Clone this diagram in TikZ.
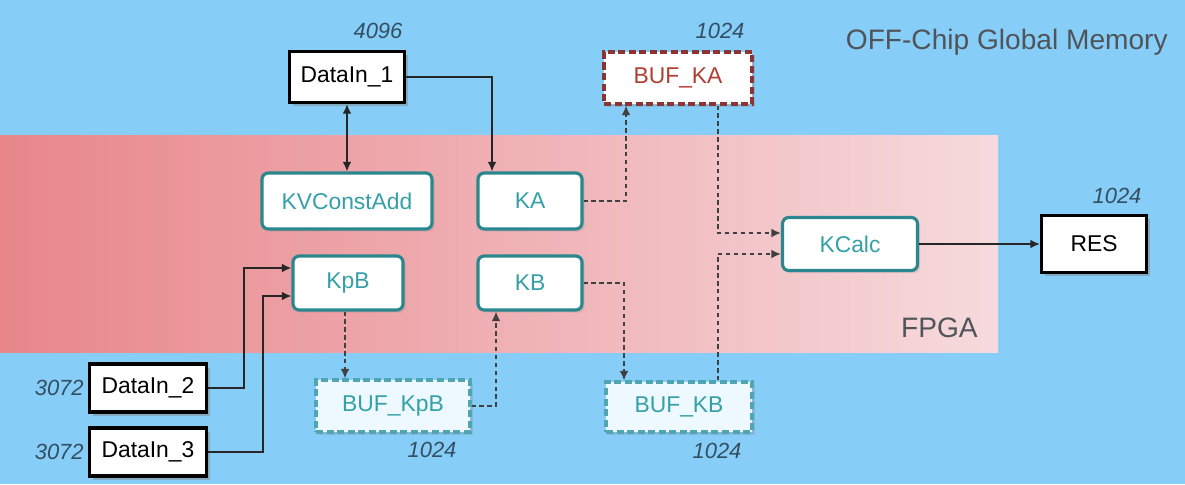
\documentclass[tikz,border=0pt]{standalone}
\usepackage{fontspec}
\setmainfont{Liberation Sans}
\usetikzlibrary{shadows,arrows.meta,positioning,calc}
\definecolor{memblue}{RGB}{134,206,248}
\definecolor{fpgadark}{RGB}{232,134,138}
\definecolor{fpgalight}{RGB}{246,218,221}
\definecolor{kteal}{RGB}{42,135,142}
\definecolor{ktext}{RGB}{52,160,168}
\definecolor{bufteal}{RGB}{80,165,178}
\definecolor{bufred}{RGB}{140,52,52}
\definecolor{bufredtext}{RGB}{178,62,50}
\definecolor{sizetext}{RGB}{52,78,98}
\definecolor{captext}{RGB}{80,84,90}

\begin{document}
\begin{tikzpicture}[
    x=0.02cm, y=-0.02cm,
    >={Latex[length=5.5pt,width=5pt]},
    every node/.style={
        font=\fontsize{13}{15}\selectfont,
        inner sep=0pt,
        align=center
    },
    memblock/.style={
        draw=black, line width=1.8pt, fill=white,
        drop shadow={shadow xshift=2pt, shadow yshift=-2pt, opacity=0.45}
    },
    kernel/.style={
        draw=kteal, line width=1.8pt, rounded corners=3.5pt,
        fill=white, text=ktext,
        drop shadow={shadow xshift=1.5pt, shadow yshift=-1.5pt, opacity=0.2}
    },
    buffer/.style={
        draw=bufteal, line width=1.8pt, dash pattern=on 4pt off 2pt,
        fill=white!93!cyan, text=ktext,
        drop shadow={shadow xshift=1.5pt, shadow yshift=-1.5pt, opacity=0.25}
    },
    bufhot/.style={buffer, draw=bufred, fill=white, text=bufredtext},
    sizelabel/.style={font=\fontsize{12.5}{15}\selectfont\itshape, text=sizetext},
    wire/.style={->, line width=0.9pt, draw=black!85},
    dwire/.style={->, line width=0.9pt, draw=black!75, dash pattern=on 2.5pt off 2pt}
]
\useasboundingbox (0,0) rectangle (1185,484);
\fill[memblue] (0,0) rectangle (1185,484);
\shade[left color=fpgadark, right color=fpgalight] (0,135) rectangle (998,352);

\node[font=\fontsize{16}{18}\selectfont, text=captext, anchor=east] (offchip) at (1168,42) {OFF-Chip Global Memory};
\node[font=\fontsize{16}{18}\selectfont, text=captext, anchor=east] (fpga) at (978,328) {FPGA};

\node[memblock, minimum width=2.3cm, minimum height=1.02cm] (DataIn_1) at (347,77) {DataIn\_1};
\node[memblock, minimum width=2.34cm, minimum height=0.96cm] (DataIn_2) at (148,388) {DataIn\_2};
\node[memblock, minimum width=2.34cm, minimum height=0.96cm] (DataIn_3) at (148,452) {DataIn\_3};
\node[memblock, minimum width=2.1cm, minimum height=1.14cm] (RES) at (1094,244) {RES};

\node[kernel, minimum width=3.4cm, minimum height=1.12cm] (KVConstAdd) at (347,201) {KVConstAdd};
\node[kernel, minimum width=2.08cm, minimum height=1.12cm] (KA) at (530,201) {KA};
\node[kernel, minimum width=2.2cm, minimum height=1.08cm] (KpB) at (348,283) {KpB};
\node[kernel, minimum width=2.08cm, minimum height=1.08cm] (KB) at (530,283) {KB};
\node[kernel, minimum width=2.7cm, minimum height=1.06cm] (KCalc) at (850,244) {KCalc};

\node[bufhot, minimum width=2.96cm, minimum height=1.04cm] (BUF_KA) at (678,78) {BUF\_KA};
\node[buffer, minimum width=3.08cm, minimum height=1.04cm] (BUF_KpB) at (393,406) {BUF\_KpB};
\node[buffer, minimum width=2.92cm, minimum height=1.0cm] (BUF_KB) at (679,407) {BUF\_KB};

\node[sizelabel] (sz_in1) at (378,31) {4096};
\node[sizelabel] (sz_bufka) at (720,31) {1024};
\node[sizelabel] (sz_res) at (1117,196) {1024};
\node[sizelabel] (sz_bufkpb) at (432,450) {1024};
\node[sizelabel] (sz_bufkb) at (717,451) {1024};
\node[sizelabel, anchor=east] (sz_in2) at (84,388) {3072};
\node[sizelabel, anchor=east] (sz_in3) at (84,452) {3072};

\draw[wire, <->] (DataIn_1.south) -- (KVConstAdd.north);
\draw[wire] (DataIn_1.east) -| ([xshift=-0.76cm]KA.north);
\draw[dwire] (KA.east) -| ([xshift=-1.04cm]BUF_KA.south);
\draw[dwire] ([xshift=0.8cm]BUF_KA.south) |- ([yshift=0.22cm]KCalc.west);
\draw[dwire] ([xshift=0.78cm]BUF_KB.north) |- ([yshift=-0.2cm]KCalc.west);
\draw[wire] (KCalc.east) -- (RES.west);
\draw[wire] (DataIn_2.east) -- ++(36,0) |- ([yshift=0.3cm]KpB.west);
\draw[wire] (DataIn_3.east) -- ++(55,0) |- ([yshift=-0.26cm]KpB.west);
\draw[dwire] ([xshift=-0.06cm]KpB.south) -- ([xshift=-0.06cm]KpB.south |- BUF_KpB.north);
\draw[dwire] (BUF_KpB.east) -| ([xshift=-0.68cm]KB.south);
\draw[dwire] (KB.east) -| ([xshift=-1.1cm]BUF_KB.north);
\end{tikzpicture}
\end{document}
